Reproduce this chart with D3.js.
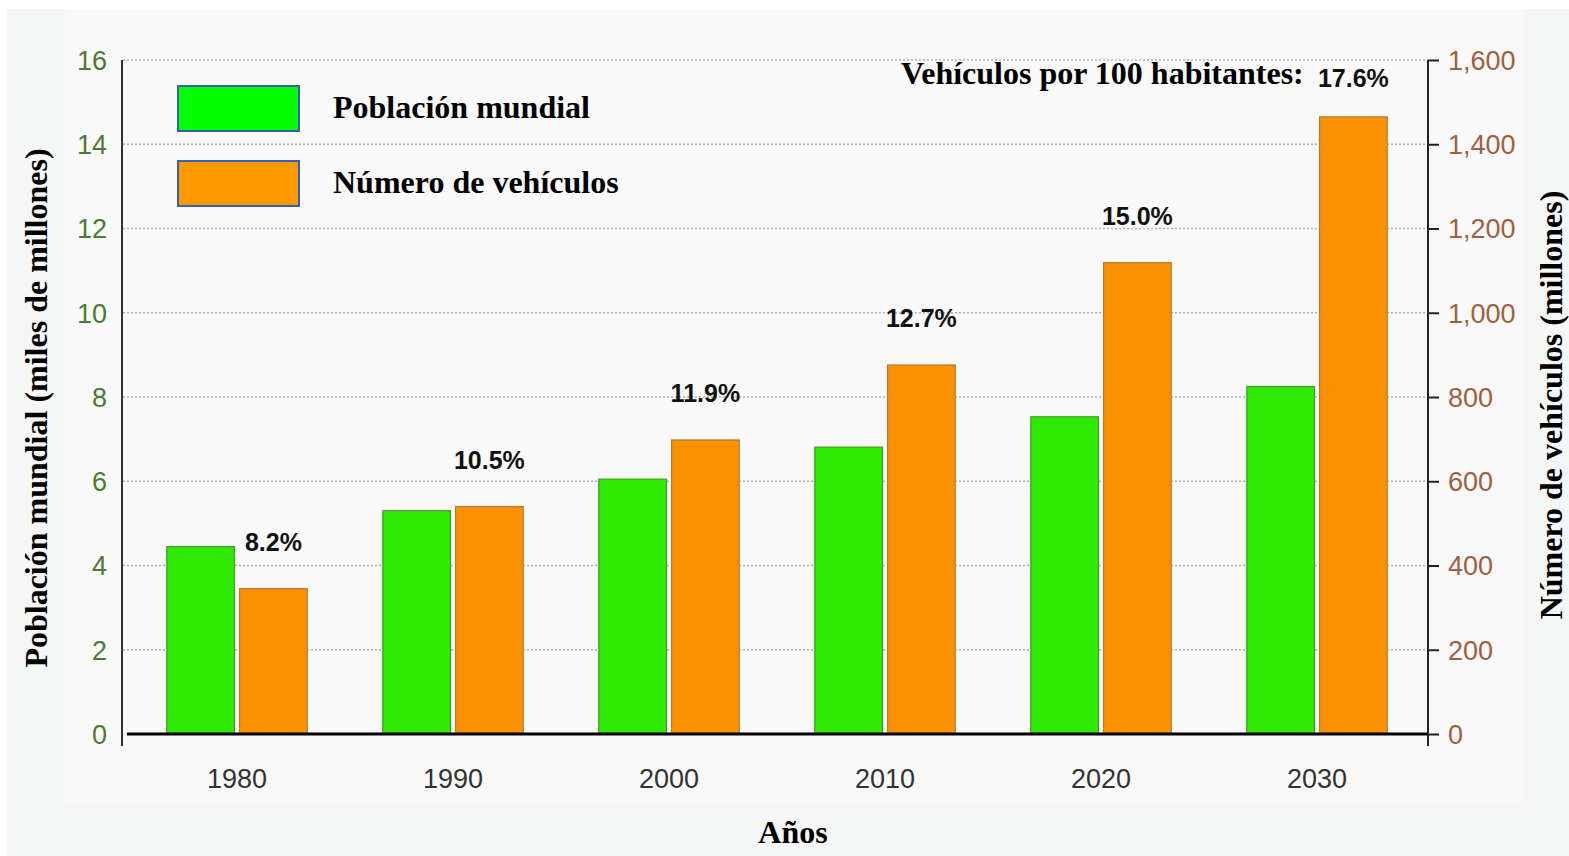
<!DOCTYPE html>
<html>
<head>
<meta charset="utf-8">
<script src="https://cdn.jsdelivr.net/npm/d3@7"></script>
<style>
  html, body { margin: 0; padding: 0; background: #fff; }
  svg { display: block; }
</style>
</head>
<body>
<svg id="chart" width="1569" height="856"></svg>
<script>
// data
const years = ['1980', '1990', '2000', '2010', '2020', '2030'];
const population = [4.45, 5.3, 6.05, 6.81, 7.53, 8.25];       // miles de millones
const vehicles = [345, 540, 698, 876, 1119, 1465];           // millones
const perHundred = ['8.2%', '10.5%', '11.9%', '12.7%', '15.0%', '17.6%'];
const leftTicks = [0, 2, 4, 6, 8, 10, 12, 14, 16];
const rightTicks = [0, 200, 400, 600, 800, 1000, 1200, 1400, 1600];
const seriesNames = ['Población mundial', 'Número de vehículos'];

const W = 1569, H = 856;
const SANS = '"Liberation Sans", Arial, sans-serif';
const SERIF = '"Liberation Serif", "Times New Roman", serif';
const GREEN = '#2eea00', ORANGE = '#fb9000';

const svg = d3.select('#chart');

// backgrounds
svg.append('rect').attr('x', 7).attr('y', 9).attr('width', W - 7).attr('height', H - 9).attr('fill', '#f5f6f6');
svg.append('rect').attr('x', 65).attr('y', 9).attr('width', 1458).attr('height', 794).attr('fill', '#f9f9f9');

const L = 123, R = 1428;
const x0 = d3.scaleBand().domain(years).range([129, 1425]).paddingInner(0.35).paddingOuter(0.175);
const x1 = d3.scaleBand().domain(['pop', 'veh']).range([0, x0.bandwidth()]).paddingInner(0.07);
const yL = d3.scaleLinear().domain([0, 16]).range([734, 60]);
const yR = d3.scaleLinear().domain([0, 1600]).range([734, 60]);

// gridlines
svg.append('g').selectAll('line').data(leftTicks.filter(d => d > 0)).join('line')
  .attr('x1', L).attr('x2', R).attr('y1', d => yL(d)).attr('y2', d => yL(d))
  .attr('stroke', '#9fb6c9').attr('stroke-width', 1.3).attr('stroke-dasharray', '2,2');

// bars
const groups = svg.append('g').selectAll('g').data(years).join('g')
  .attr('transform', d => `translate(${x0(d)},0)`);
groups.append('rect')
  .attr('x', x1('pop')).attr('width', x1.bandwidth())
  .attr('y', (d, i) => yL(population[i])).attr('height', (d, i) => yL(0) - yL(population[i]))
  .attr('fill', GREEN).attr('stroke', '#4a9a2a').attr('stroke-width', 1.2);
groups.append('rect')
  .attr('x', x1('veh')).attr('width', x1.bandwidth())
  .attr('y', (d, i) => yR(vehicles[i])).attr('height', (d, i) => yR(0) - yR(vehicles[i]))
  .attr('fill', ORANGE).attr('stroke', '#b07a3a').attr('stroke-width', 1.2);

// percentage labels over the vehicle bars
const last = years.length - 1;
groups.append('text')
  .attr('x', x1('veh') + x1.bandwidth() / 2)
  .attr('y', (d, i) => i === last ? 87 : yR(vehicles[i]) - 38)
  .attr('text-anchor', 'middle')
  .attr('font-family', SANS).attr('font-weight', 'bold').attr('font-size', 25).attr('fill', '#111')
  .text((d, i) => perHundred[i]);

svg.append('text').attr('x', 901).attr('y', 84)
  .attr('font-family', SERIF).attr('font-weight', 'bold').attr('font-size', 32).attr('fill', '#000')
  .text('Vehículos por 100 habitantes:');

// left axis
const gl = svg.append('g').attr('transform', `translate(${L - 1},0)`)
  .call(d3.axisLeft(yL).tickValues(leftTicks).tickSize(0).tickPadding(15));
gl.select('.domain').remove();
gl.selectAll('text').attr('font-family', SANS).attr('font-size', 27).attr('fill', '#4b7a35').attr('dy', '0.35em');
svg.append('line').attr('x1', L - 1).attr('x2', L - 1).attr('y1', yL(16)).attr('y2', yL(0) + 12)
  .attr('stroke', '#333').attr('stroke-width', 2);

// right axis
const gr = svg.append('g').attr('transform', `translate(${R},0)`)
  .call(d3.axisRight(yR).tickValues(rightTicks).tickSize(11).tickPadding(9).tickFormat(d3.format(',')));
gr.select('.domain').remove();
gr.selectAll('line').attr('stroke', '#222').attr('stroke-width', 2);
gr.selectAll('text').attr('font-family', SANS).attr('font-size', 27).attr('fill', '#a0603f').attr('dy', '0.35em');
svg.append('line').attr('x1', R).attr('x2', R).attr('y1', yR(1600)).attr('y2', yR(0) + 12)
  .attr('stroke', '#222').attr('stroke-width', 2);

// baseline
svg.append('line').attr('x1', 127).attr('x2', R - 1).attr('y1', yL(0)).attr('y2', yL(0))
  .attr('stroke', '#000').attr('stroke-width', 3);

// x labels
svg.append('g').selectAll('text').data(years).join('text')
  .attr('x', d => x0(d) + x0.bandwidth() / 2).attr('y', 788)
  .attr('text-anchor', 'middle')
  .attr('font-family', SANS).attr('font-size', 27).attr('fill', '#333')
  .text(d => d);

// axis titles
svg.append('text').attr('transform', 'translate(47,408) rotate(-90)')
  .attr('text-anchor', 'middle')
  .attr('font-family', SERIF).attr('font-weight', 'bold').attr('font-size', 32)
  .text('Población mundial (miles de millones)');
svg.append('text').attr('transform', 'translate(1562,405) rotate(-90)')
  .attr('text-anchor', 'middle')
  .attr('font-family', SERIF).attr('font-weight', 'bold').attr('font-size', 32)
  .text('Número de vehículos (millones)');
svg.append('text').attr('x', 793).attr('y', 843)
  .attr('text-anchor', 'middle')
  .attr('font-family', SERIF).attr('font-weight', 'bold').attr('font-size', 32)
  .text('Años');

// legend
const legend = svg.append('g').selectAll('g').data(seriesNames).join('g')
  .attr('transform', (d, i) => `translate(178,${86 + i * 75})`);
legend.append('rect').attr('width', 121).attr('height', 45)
  .attr('fill', (d, i) => i === 0 ? '#00ff00' : '#ff9900')
  .attr('stroke', '#3a5fb0').attr('stroke-width', 2);
legend.append('text').attr('x', 155).attr('y', 32)
  .attr('font-family', SERIF).attr('font-weight', 'bold').attr('font-size', 32)
  .text(d => d);
</script>
</body>
</html>
